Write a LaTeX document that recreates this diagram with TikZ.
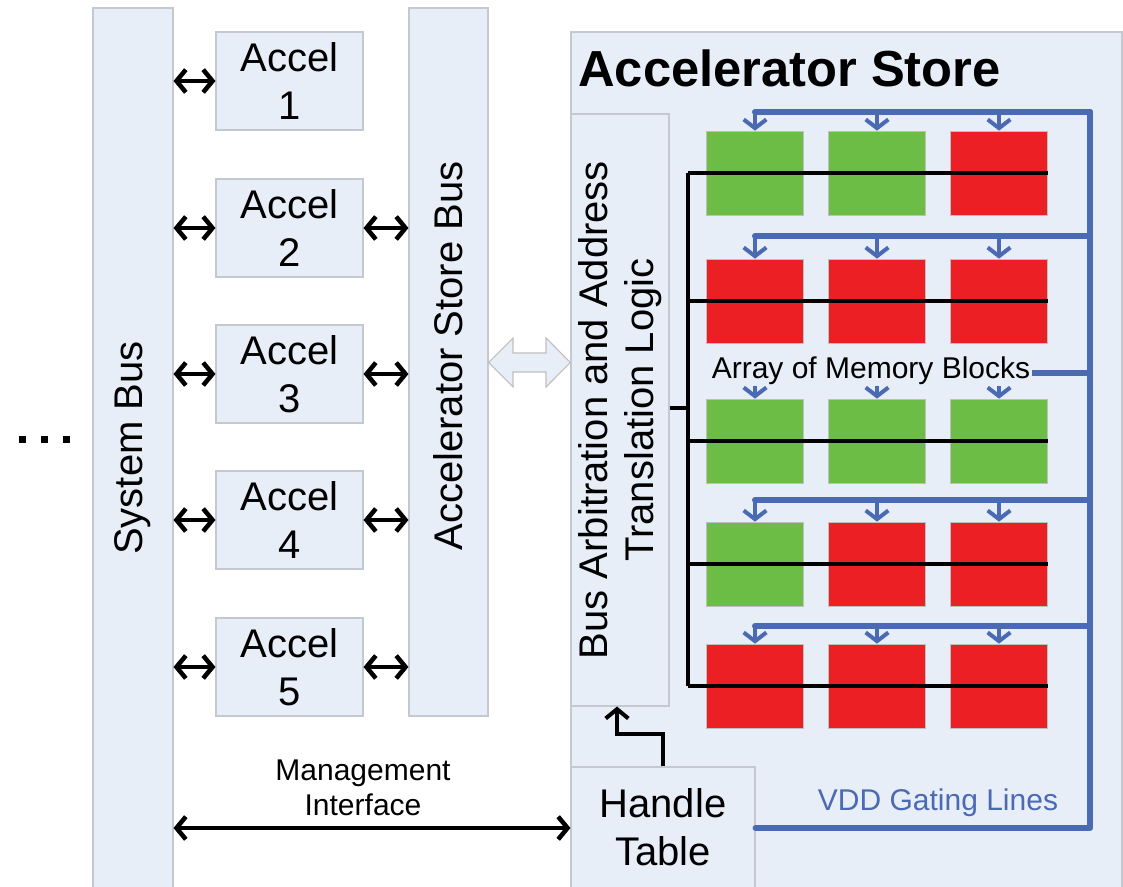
\documentclass[tikz,border=0pt]{standalone}
\usepackage{fontspec}
\setmainfont{Liberation Sans}
\usetikzlibrary{arrows.meta,calc}
\definecolor{panel}{RGB}{232,238,248}
\definecolor{edge}{RGB}{196,200,208}
\definecolor{vddblue}{RGB}{74,106,180}
\definecolor{memgreen}{RGB}{108,189,69}
\definecolor{memred}{RGB}{236,32,36}
\begin{document}
\begin{tikzpicture}[x=0.75pt,y=-0.75pt,
  sz/.style 2 args={minimum width=#1*0.75pt, minimum height=#2*0.75pt},
  box/.style={draw=edge, fill=panel, line width=0.8pt, inner sep=0pt},
  big/.style={font=\fontsize{30}{36}\selectfont, align=center, inner sep=0pt},
  small/.style={font=\fontsize{22.5}{26}\selectfont, align=center},
  link/.style={line width=3.4pt, {Straight Barb[length=7pt,width=17pt]}-{Straight Barb[length=7pt,width=17pt]}},
  ctl/.style={line width=3pt, -{Straight Barb[length=7pt,width=17pt]}},
  wire/.style={line width=2.8pt, line join=round},
  vdd/.style={vddblue, line width=4.5pt, line cap=round, line join=round},
  tap/.style={vddblue, line width=3pt, -{Straight Barb[length=6.5pt,width=17pt]}},
  mem/.style={draw=black!25, line width=0.5pt, sz={97}{84}, inner sep=0pt},
  hollow/.style={draw=black!25, fill=panel, line width=0.8pt}
]
\useasboundingbox (0,0) rectangle (1123,887);

% continuation dots for further system bus masters
\foreach \x in {22,44,66} \fill (\x-3.5,435.5) rectangle ++(7,7);

% system bus and accelerator store bus
\node[box, sz={80}{880}] (sysbus) at (133,448) {};
\node[big, rotate=90] (sysbuslbl) at (sysbus.center) {System Bus};
\node[box, sz={79}{708}] (asbus) at (448.5,362) {};
\node[big, rotate=90] (asbuslbl) at (448.5,356) {Accelerator Store Bus};

% accelerators
\foreach \i/\y in {1/81,2/228,3/374,4/520,5/667}{
  \node[box, big, sz={147}{98}] (acc\i) at (289.5,\y) {Accel\\\i};
  \draw[link] (sysbus.east |- acc\i) -- (acc\i.west);
}
\foreach \i in {2,3,4,5}
  \draw[link] (acc\i.east) -- (asbus.west |- acc\i);

% accelerator store
\node[box, sz={551}{856}] (store) at (846.5,460) {};
\node[anchor=west, inner sep=0pt, font=\fontsize{38}{40}\selectfont\bfseries] (title) at (578,68) {Accelerator Store};
\node[box, sz={98}{592}] (arb) at (620,410) {};
\node[big, rotate=90, font=\fontsize{30}{35}\selectfont] (arblbl) at (arb.center) {Bus Arbitration and Address\\Translation Logic};
\node[box, big, sz={184}{121}] (handle) at (663,827.5) {Handle\\Table};

% wide two-way path between the store bus and the arbitration logic
\draw[hollow] (asbus.east |- 0,362.5) -- (513,338) -- (513,353) -- (546,353) -- (546,338)
  -- (arb.west |- 0,362.5) -- (546,387) -- (546,372) -- (513,372) -- (513,387) -- cycle;

% management interface
\coordinate (mgmt) at (0,828);
\draw[link] (sysbus.east |- mgmt) -- (store.west |- mgmt);
\node[small] (mgmtlbl) at (363,788) {Management\\Interface};

% handle table feeds the arbitration logic
\draw[ctl] (handle.north) -- ++(0,-32) -| ([xshift=-2.25pt]arb.south);

% VDD gating trunk
\coordinate (trunktop) at (1090,112);
\coordinate (trunkbot) at (1090,828);
\draw[vdd] (handle.east |- trunkbot) -- (trunkbot) -- (trunktop);
\node[text=vddblue, font=\fontsize{22.5}{26}\selectfont] (vddlbl) at (938,803) {VDD Gating Lines};

% memory array: per-row gating bus, blocks and data line
\coordinate (spine) at (688,0);
\foreach \r/\y/\by/\a/\b/\c in {1/173/112/memgreen/memgreen/memred,
                                2/301/236/memred/memred/memred,
                                3/441/373/memgreen/memgreen/memgreen,
                                4/564/500/memgreen/memred/memred,
                                5/686/626/memred/memred/memred}{
  \node[mem, fill=\a] (m\r a) at (755,\y) {};
  \node[mem, fill=\b] (m\r b) at (877,\y) {};
  \node[mem, fill=\c] (m\r c) at (999,\y) {};
  \coordinate (bus\r) at (1090,\by);
  \draw[vdd] (bus\r) -- (m\r a.north |- bus\r);
  \foreach \k in {a,b,c}
    \draw[tap] (m\r\k.north |- bus\r) -- (m\r\k.north);
  \draw[wire] (spine |- m\r a) -- (m\r c.east);
}
\node[small, fill=panel, inner sep=1pt] (arraylbl) at (871,371) {Array of Memory Blocks};

% data spine from the arbitration logic
\draw[wire] (spine |- m1a) -- (spine |- m5a);
\draw[wire] (arb.east |- 0,408) -- (spine |- 0,408);
\end{tikzpicture}
\end{document}
